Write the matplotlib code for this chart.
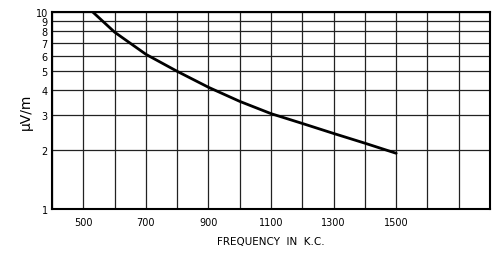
import matplotlib.pyplot as plt
from matplotlib.ticker import FixedLocator, NullLocator

# значення
freq = [530, 600, 700, 800, 900, 1000, 1100, 1200, 1300, 1400, 1500]
field = [10, 7.9, 6.1, 5.0, 4.15, 3.52, 3.05, 2.72, 2.42, 2.16, 1.92]

x_grid = list(range(400, 1801, 100))
x_ticks = [500, 700, 900, 1100, 1300, 1500]
y_ticks = [1, 2, 3, 4, 5, 6, 7, 8, 9, 10]

fig = plt.figure(figsize=(4.96, 2.55), dpi=100)
ax = fig.add_axes([0.105, 0.176, 0.883, 0.773])

ax.set_yscale('log')
ax.set_xlim(400, 1800)
ax.set_ylim(1, 10)

# сітка
for x in x_grid:
    ax.axvline(x, color='#222222', lw=0.9, zorder=1)
for y in y_ticks:
    ax.axhline(y, color='#222222', lw=0.9, zorder=1)

ax.plot(freq, field, color='black', lw=2.0, zorder=3,
        solid_capstyle='round', solid_joinstyle='round')

ax.xaxis.set_major_locator(FixedLocator(x_ticks))
ax.xaxis.set_minor_locator(NullLocator())
ax.yaxis.set_major_locator(FixedLocator(y_ticks))
ax.yaxis.set_minor_locator(NullLocator())
ax.set_xticklabels([str(v) for v in x_ticks])
ax.set_yticklabels([str(v) for v in y_ticks])
ax.tick_params(axis='both', length=0, labelsize=7, pad=3)
ax.tick_params(axis='x', pad=6)

for s in ax.spines.values():
    s.set_linewidth(1.5)
    s.set_color('black')

ax.set_xlabel('FREQUENCY  IN  K.C.', fontsize=7.5, labelpad=6)
ax.set_ylabel('μV/m', fontsize=10, labelpad=2)

fig.savefig('out.png', dpi=100)
